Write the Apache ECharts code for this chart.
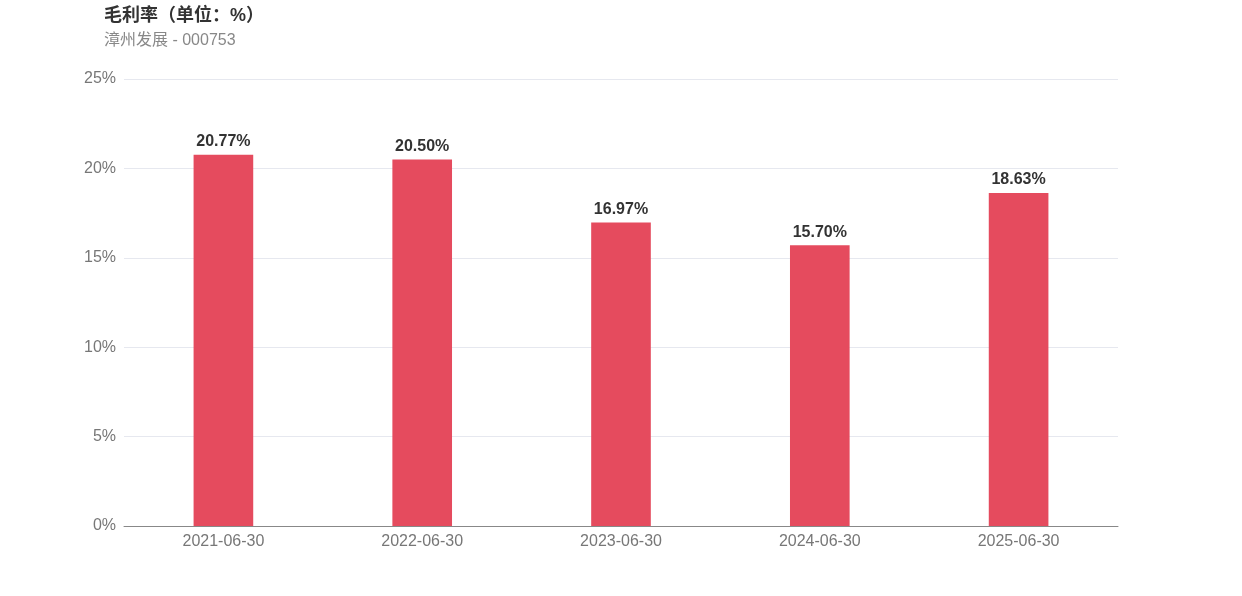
<!DOCTYPE html>
<html><head><meta charset="utf-8">
<script src="https://cdn.jsdelivr.net/npm/echarts@6/dist/echarts.min.js"></script>
<style>html,body{margin:0;padding:0;background:#fff}#c{width:1242px;height:596px}</style>
</head><body><div id="c"></div>
<script>
const categories = ['2021-06-30','2022-06-30','2023-06-30','2024-06-30','2025-06-30'];
const values = [20.77, 20.50, 16.97, 15.70, 18.63];
const titleText = '毛利率（单位：%）';
const subtitleText = '漳州发展 - 000753';
const chart = echarts.init(document.getElementById('c'));
chart.setOption({
  animation: false,
  textStyle: {fontFamily: 'Liberation Sans, Arial, "Noto Sans CJK SC", sans-serif'},
  title: {
    text: titleText, subtext: subtitleText, left: 99, top: 2, itemGap: 8,
    textStyle: {fontSize: 18, fontWeight: 'bold', color: '#333'},
    subtextStyle: {fontSize: 16, color: '#888'}
  },
  grid: {left: 124, right: 124, top: 79, bottom: 70, containLabel: false},
  xAxis: {
    type: 'category', data: categories,
    axisLine: {lineStyle: {color: '#888'}},
    axisTick: {show: false},
    axisLabel: {color: '#777', fontSize: 16, margin: 8}
  },
  yAxis: {
    type: 'value', min: 0, max: 25, interval: 5,
    axisLabel: {formatter: '{value}%', color: '#777', fontSize: 16, margin: 8},
    splitLine: {lineStyle: {color: '#e6e8ef'}},
    axisLine: {show: false}, axisTick: {show: false}
  },
  series: [{
    type: 'bar', data: values, barWidth: '30%',
    itemStyle: {color: '#E54B5E'},
    label: {show: true, position: 'top', formatter: p => p.value.toFixed(2) + '%',
      fontSize: 16, fontWeight: 'bold', color: '#333', distance: 5}
  }]
});
</script></body></html>
